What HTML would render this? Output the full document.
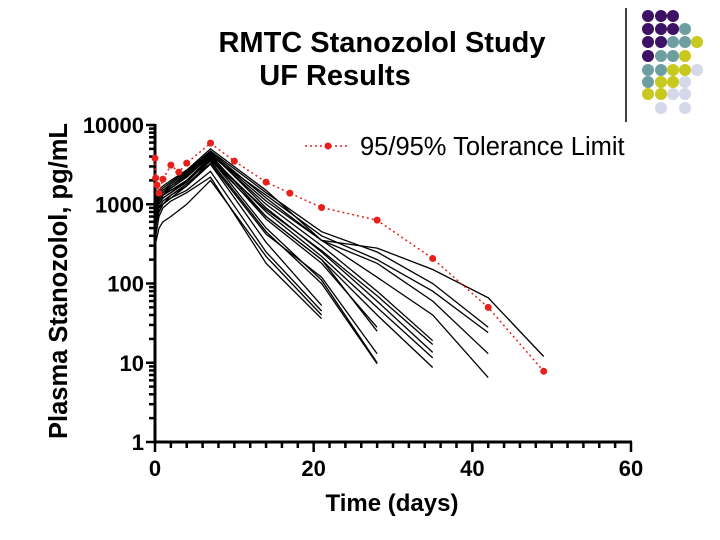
<!DOCTYPE html>
<html><head><meta charset="utf-8"><style>
body{margin:0;background:#fff;}
svg{display:block;font-family:"Liberation Sans",Arial,sans-serif;}
</style></head><body>
<svg id="chart" width="720" height="540" viewBox="0 0 720 540">
<g id="logo"></g>
<text x="382" y="52" font-size="29" font-weight="bold" text-anchor="middle">RMTC Stanozolol Study</text>
<text x="335" y="85" font-size="29" font-weight="bold" text-anchor="middle">UF Results</text>
<text transform="translate(67,281) rotate(-90)" font-size="25.5" font-weight="bold" text-anchor="middle">Plasma Stanozolol, pg/mL</text>
<text x="392" y="511" font-size="24" font-weight="bold" text-anchor="middle">Time (days)</text>
<g id="axes"></g>
<g id="subjects"></g>
<g id="tol"></g>
<g>
<line x1="305" y1="146" x2="350" y2="146" stroke="#e8201c" stroke-width="1.5" stroke-dasharray="2,3"/>
<circle cx="328" cy="146" r="3.5" fill="#e8201c"/>
<text x="360" y="155" font-size="25.5">95/95% Tolerance Limit</text>
</g>
</svg>
<script>
const times=[0,0.5,1,2,4,7,14,21,28,35,42,49];
const subjectValues=[
[350,700,900,1100,1400,2200,180,36],
[500,800,1000,1200,1500,2600,250,45],
[450,900,1100,1300,1700,3200,330,53],
[300,500,600,700,1000,2000,220,40],
[600,1000,1200,1400,2000,3500,450,100,9.7],
[700,1100,1300,1500,2000,3800,500,110,10],
[550,900,1000,1300,1800,3300,420,120,13],
[800,1200,1400,1600,2200,4200,700,200,25],
[650,1000,1200,1400,2000,3900,650,180,28],
[500,800,1000,1200,1700,3600,700,200,40,8.7],
[700,1100,1300,1500,2000,4000,800,220,50,11.5],
[900,1300,1500,1700,2400,4500,900,250,60,13.5],
[600,1000,1200,1400,1900,3700,850,260,70,17],
[750,1100,1300,1600,2200,4300,1000,300,80,19],
[800,1200,1400,1700,2300,4400,1100,350,120,40,6.5],
[850,1300,1500,1800,2500,4600,1200,350,180,60,13],
[700,1100,1300,1600,2200,4100,1300,400,200,80,24],
[900,1400,1600,1900,2600,4700,1400,450,250,100,28],
[1000,1500,1700,2000,2700,5000,1500,350,280,150,66,12]
];
const tolTimes=[0,0.08,0.25,0.5,1,2,3,4,7,10,14,17,21,28,35,42,49];
const tolValues=[3800,2140,1750,1380,2070,3120,2540,3300,5900,3500,1900,1380,910,630,207,50,7.8];
const yTickLabels=["1","10","100","1000","10000"];
const xTickLabels=["0","20","40","60"];
const NS="http://www.w3.org/2000/svg";
const X0=155,X1=631,Y0=442,Y1=125;
function xs(t){return X0+(t/60)*(X1-X0);}
function ys(v){return Y0-(Math.log10(v)/4)*(Y0-Y1);}
function mk(tag,attrs,parent){const e=document.createElementNS(NS,tag);for(const k in attrs)e.setAttribute(k,attrs[k]);parent.appendChild(e);return e;}
const logo=document.getElementById('logo');
const P="#3d1163",T="#6f9ea0",Yc="#c8c81e",L="#d5d8e8";
const rows=[[P,P,P],[P,P,P,T],[P,P,T,T,Yc],[P,T,T,Yc],[T,T,Yc,Yc,L],[T,Yc,Yc,L],[Yc,Yc,L,L],[null,L,null,L]];
const rowY=[16,29,42,56,70,82,94,108];
const colX=[648,661,673,685,697];
rows.forEach((r,i)=>r.forEach((c,j)=>{if(!c)return;const d=mk('circle',{cx:colX[j],cy:rowY[i],r:6,fill:c},logo);

}));
const ll=mk('line',{x1:626,y1:8,x2:626,y2:122,stroke:"#000","stroke-width":1.5},logo);


const ax=document.getElementById('axes');
const ya=mk('line',{x1:X0,y1:Y1-1,x2:X0,y2:Y0,stroke:"#000","stroke-width":3},ax);


const xa=mk('line',{x1:X0-1.5,y1:Y0,x2:X1+1,y2:Y0,stroke:"#000","stroke-width":3},ax);


for(let d=0;d<4;d++){for(let m=1;m<=9;m++){const v=Math.pow(10,d)*m;const y=ys(v);
mk('line',{x1:X0-(m==1?9:6),y1:y,x2:X0,y2:y,stroke:"#000","stroke-width":2.5},ax);}}
mk('line',{x1:X0-9,y1:Y1,x2:X0,y2:Y1,stroke:"#000","stroke-width":2.5},ax);
yTickLabels.forEach((s,i)=>{const t=mk('text',{x:X0-11,y:ys(Math.pow(10,i))+8,"font-size":22,"font-weight":"bold","text-anchor":"end"},ax);t.textContent=s;

});
for(let d=0;d<=60;d+=2){const x=xs(d);mk('line',{x1:x,y1:Y0,x2:x,y2:Y0+(d%20==0?10:6),stroke:"#000","stroke-width":2.5},ax);}
xTickLabels.forEach((s,i)=>{const t=mk('text',{x:xs(+s),y:Y0+34,"font-size":22,"font-weight":"bold","text-anchor":"middle"},ax);t.textContent=s;

});
const sg=document.getElementById('subjects');
subjectValues.forEach((vals)=>{const pts=vals.map((v,i)=>xs(times[i]).toFixed(1)+","+ys(v).toFixed(1)).join(" ");
const pl=mk('polyline',{points:pts,fill:"none",stroke:"#000","stroke-width":1.3},sg);

});
const tg=document.getElementById('tol');
const tp=tolValues.map((v,i)=>xs(tolTimes[i]).toFixed(1)+","+ys(v).toFixed(1)).join(" ");
const tl=mk('polyline',{points:tp,fill:"none",stroke:"#e8201c","stroke-width":1.5,"stroke-dasharray":"2,3"},tg);


tolValues.forEach((v,i)=>{const c=mk('circle',{cx:xs(tolTimes[i]),cy:ys(v),r:3.5,fill:"#e8201c"},tg);

});
</script>
</body></html>
